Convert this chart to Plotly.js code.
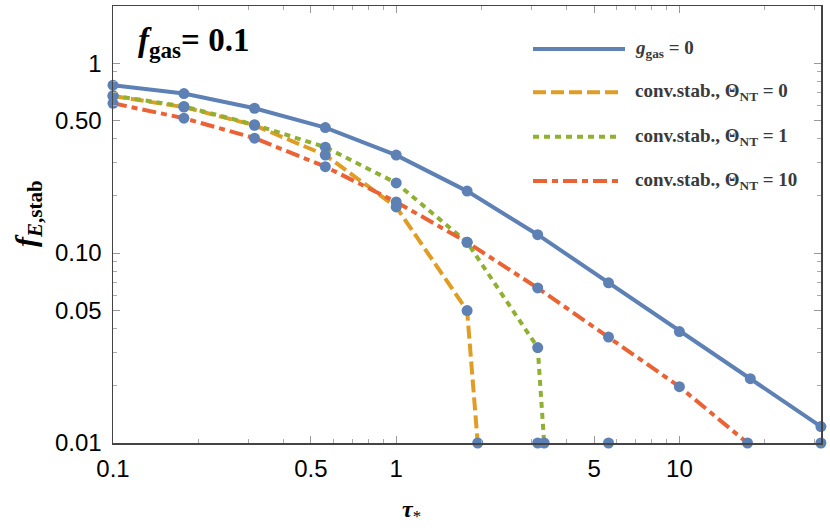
<!DOCTYPE html>
<html>
<head>
<meta charset="utf-8">
<script src="https://cdn.plot.ly/plotly-3.0.1.min.js"></script>
<style>
  body { margin: 0; background: #fff; }
  #chart { width: 830px; height: 530px; }
</style>
</head>
<body>
<div id="chart"></div>
<script>
// tau_* grid (quarter decades)
const tauGrid = [0.1, 0.178, 0.316, 0.562, 1, 1.78, 3.16, 5.62, 10, 17.8, 31.6];

// g_gas = 0
const noGasY = [0.766, 0.692, 0.579, 0.458, 0.328, 0.212, 0.125, 0.0697, 0.0386, 0.0218, 0.0122];

// conv.stab., Theta_NT = 0
const theta0X = [0.1, 0.178, 0.316, 0.562, 1, 1.78, 1.94];
const theta0Y = [0.671, 0.587, 0.471, 0.328, 0.175, 0.0498, 0.01];

// conv.stab., Theta_NT = 1
const theta1X = [0.1, 0.178, 0.316, 0.562, 1, 1.78, 3.16, 3.33];
const theta1Y = [0.675, 0.592, 0.474, 0.361, 0.234, 0.114, 0.0318, 0.01];

// conv.stab., Theta_NT = 10
const theta10X = [0.1, 0.178, 0.316, 0.562, 1, 1.78, 3.16, 5.62, 10, 17.4];
const theta10Y = [0.615, 0.513, 0.403, 0.285, 0.186, 0.114, 0.0655, 0.0361, 0.0198, 0.01];

// points sitting on the lower frame edge
const floorX = [3.16, 5.62, 31.6];
const floorY = [0.01, 0.01, 0.01];

const legendNames = [
  "<i>g</i><sub>gas</sub> = 0",
  "conv.stab., Θ<sub>NT</sub> = 0",
  "conv.stab., Θ<sub>NT</sub> = 1",
  "conv.stab., Θ<sub>NT</sub> = 10"
];

const xMajor = [0.1, 0.5, 1, 5, 10];
const xMajorText = ["0.1", "0.5", "1", "5", "10"];
const xMinor = [0.2, 0.3, 0.4, 0.6, 0.7, 0.8, 0.9, 2, 3, 4, 6, 7, 8, 9, 20, 30];
const yMajor = [0.01, 0.05, 0.1, 0.5, 1];
const yMajorText = ["0.01", "0.05", "0.10", "0.50", "1"];
const yMinor = [0.02, 0.03, 0.04, 0.06, 0.07, 0.08, 0.09, 0.2, 0.3, 0.4, 0.6, 0.7, 0.8, 0.9, 2];

const BLUE = "#5E81B5", ORANGE = "#E19C24", GREEN = "#8FB032", RED = "#EB6235";
const dashes = ["solid", "13px,5px", "6px,5px", "14px,5px,6px,5px"];
const colors = [BLUE, ORANGE, GREEN, RED];
const SERIF = "'Liberation Serif', 'Times New Roman', serif";
const SANS = "'Liberation Sans', Arial, sans-serif";

const series = [
  [tauGrid, noGasY],
  [theta0X, theta0Y],
  [theta1X, theta1Y],
  [theta10X, theta10Y]
];

const traces = [];
series.forEach(function (s, i) {
  traces.push({
    x: s[0], y: s[1], type: "scatter", mode: "lines",
    line: { color: colors[i], width: 4, dash: dashes[i] },
    showlegend: false, hoverinfo: "skip"
  });
});
// dots on top of all the lines
series.concat([[floorX, floorY]]).forEach(function (s) {
  traces.push({
    x: s[0], y: s[1], type: "scatter", mode: "markers",
    marker: { color: BLUE, size: 11 },
    cliponaxis: false, showlegend: false, hoverinfo: "skip"
  });
});

// hand-drawn legend
const L = 113, R = 821, T = 6, B = 443;
const px = function (v) { return (v - L) / (R - L); };
const py = function (v) { return (B - v) / (B - T); };
const legendRows = [49, 92.3, 136.7, 181];

const shapes = legendRows.map(function (row, i) {
  return {
    type: "line", xref: "paper", yref: "paper",
    x0: px(533), x1: px(i === 0 ? 625 : 620), y0: py(row), y1: py(row),
    line: { color: colors[i], width: 4, dash: dashes[i] }
  };
});

const annotations = legendRows.map(function (row, i) {
  return {
    xref: "paper", yref: "paper", x: px(633), y: py(row),
    xanchor: "left", yanchor: "middle", showarrow: false,
    text: "<b>" + legendNames[i] + "</b>",
    font: { family: SERIF, size: 19, color: "#3a3a3a" }
  };
});

annotations.push({
  xref: "paper", yref: "paper", x: px(136), y: py(43),
  xanchor: "left", yanchor: "middle", showarrow: false,
  text: "<b><i>f</i><sub>gas</sub>= 0.1</b>",
  font: { family: SERIF, size: 33, color: "#000" }
});
annotations.push({
  xref: "paper", yref: "paper", x: px(411), y: py(511),
  xanchor: "center", yanchor: "middle", showarrow: false,
  text: "<b><i>τ</i></b><sub>*</sub>",
  font: { family: SERIF, size: 24, color: "#000" }
});
annotations.push({
  xref: "paper", yref: "paper", x: px(28), y: py(214),
  xanchor: "center", yanchor: "middle", showarrow: false, textangle: -90,
  text: "<b><i>f</i><sub><i>E</i>,stab</sub></b>",
  font: { family: SERIF, size: 30, color: "#000" }
});

const axisCommon = {
  type: "log",
  showgrid: false, zeroline: false,
  showline: true, linecolor: "#444", linewidth: 1.5, mirror: "allticks",
  ticks: "inside", ticklen: 7, tickwidth: 1, tickcolor: "#999",
  tickmode: "array",
  tickfont: { family: SANS, size: 24, color: "#000" }
};

const layout = {
  width: 830, height: 530,
  margin: { l: L, r: 830 - R, t: T, b: 530 - B },
  paper_bgcolor: "#fff", plot_bgcolor: "#fff",
  showlegend: false,
  xaxis: Object.assign({}, axisCommon, {
    range: [-1, 1.5], tickvals: xMajor, ticktext: xMajorText,
    ticklabelstandoff: 4,
    minor: { tickmode: "array", tickvals: xMinor, ticks: "inside", ticklen: 4, tickcolor: "#aaa" }
  }),
  yaxis: Object.assign({}, axisCommon, {
    range: [-2, Math.log10(2)], tickvals: yMajor, ticktext: yMajorText,
    ticklabelstandoff: 5,
    minor: { tickmode: "array", tickvals: yMinor, ticks: "inside", ticklen: 4, tickcolor: "#aaa" }
  }),
  shapes: shapes,
  annotations: annotations
};

Plotly.newPlot("chart", traces, layout, { displayModeBar: false, staticPlot: true });
</script>
</body>
</html>
